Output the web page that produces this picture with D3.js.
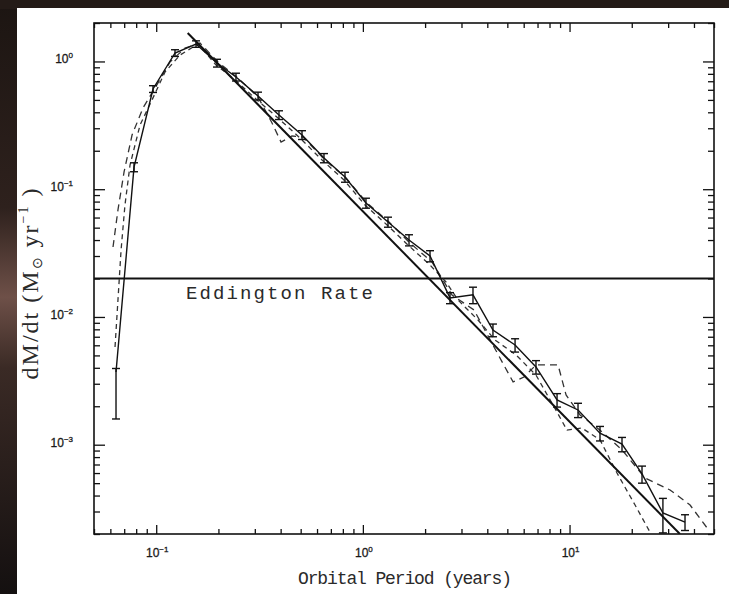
<html>
<head>
<script src="https://d3js.org/d3.v7.min.js"></script>
<style>
  body { margin: 0; background: #fff; }
</style>
</head>
<body>
<div id="chart"></div>
<script>
// ---- data ----
// main curve with error bars
const period = [0.0639, 0.0781, 0.0965, 0.1233, 0.1558, 0.1968, 0.2432, 0.3109, 0.3927, 0.5075,
                0.6483, 0.8193, 1.035, 1.323, 1.672, 2.113, 2.64, 3.41, 4.26, 5.45,
                6.88, 8.70, 10.99, 14.04, 17.94, 22.42, 28.3, 36.2]
const rate = [0.00371, 0.149, 0.609, 1.165, 1.37, 0.972, 0.756, 0.537, 0.381, 0.266,
              0.1755, 0.1246, 0.078, 0.0554, 0.040, 0.030, 0.0141, 0.0149, 0.0079, 0.00603,
              0.00406, 0.00224, 0.00187, 0.00123, 0.00101, 0.00059, 0.000292, 0.000248]
const rateLo = [0.00159, 0.137, 0.572, 1.095, 1.29, 0.904, 0.703, 0.499, 0.351, 0.245,
                0.161, 0.1134, 0.071, 0.0504, 0.036, 0.027, 0.0127, 0.0127, 0.0070, 0.00531,
                0.00357, 0.00197, 0.00163, 0.00107, 0.00088, 0.00050, 0.000204, 0.000213]
const rateHi = [0.00395, 0.161, 0.646, 1.235, 1.45, 1.040, 0.809, 0.575, 0.411, 0.287,
                0.190, 0.1358, 0.085, 0.0604, 0.044, 0.033, 0.0155, 0.0171, 0.0088, 0.00675,
                0.00455, 0.00251, 0.00211, 0.00139, 0.00114, 0.00068, 0.000380, 0.000283]

// dashed curve A
const dashAPeriod = [0.0618, 0.0653, 0.0699, 0.0764, 0.0863, 0.0987, 0.1166, 0.1378, 0.1628, 0.199,
                     0.2487, 0.311, 0.3634, 0.4018, 0.454, 0.5133, 0.6558, 0.8286, 1.047, 1.338,
                     1.691, 2.161, 2.70, 3.45, 4.31, 5.33, 6.02, 6.88, 8.80, 9.62,
                     11.24, 14.05, 17.95, 23.19, 30.64, 38.3, 46.3]
const dashARate = [0.0353, 0.0688, 0.1364, 0.2656, 0.432, 0.620, 0.990, 1.274, 1.394, 0.990,
                   0.742, 0.527, 0.330, 0.234, 0.261, 0.2563, 0.1693, 0.1224, 0.078, 0.0554,
                   0.0379, 0.0269, 0.01485, 0.01134, 0.00582, 0.0031, 0.00339, 0.00421, 0.00421, 0.00245,
                   0.00171, 0.0013, 0.00091, 0.000549, 0.000442, 0.000337, 0.000223]

// dashed curve B
const dashBPeriod = [0.0632, 0.0653, 0.0676, 0.0706, 0.0747, 0.0835, 0.0954, 0.1103, 0.1304, 0.1593,
                     0.1948, 0.2406, 0.3075, 0.3885, 0.4964, 0.6344, 0.8105, 1.024, 1.309, 1.653,
                     2.113, 2.525, 2.886, 3.607, 4.36, 5.51, 6.88, 8.70, 9.72, 11.49,
                     14.05, 16.97, 20.75, 24.5]
const dashBRate = [0.00582, 0.01357, 0.0334, 0.0752, 0.1547, 0.318, 0.499, 0.827, 1.123, 1.37,
                   0.938, 0.716, 0.499, 0.361, 0.2517, 0.1693, 0.118, 0.0752, 0.0525, 0.0366,
                   0.0255, 0.01877, 0.01357, 0.00946, 0.0066, 0.00504, 0.00351, 0.0018, 0.0013, 0.00135,
                   0.00109, 0.0006, 0.000337, 0.000207]

// power-law fit and Eddington limit
const fitPeriod = [0.142, 34.2]
const fitRate = [1.67, 0.0002]
const eddingtonRate = 0.02

// ticks
const xMajor = [0.1, 1, 10]
const xMajorExp = ['-1', '0', '1']
const yMajor = [1, 0.1, 0.01, 0.001]
const yMajorExp = ['0', '-1', '-2', '-3']

// ---- layout ----
const W = 729, H = 594
const plot = { left: 94, right: 714, top: 23, bottom: 534 }

const svg = d3.select('#chart').append('svg')
    .attr('width', W).attr('height', H)

// scanned background: dark space strip on top / left
const defs = svg.append('defs')
const grad = defs.append('linearGradient').attr('id', 'space')
    .attr('x1', 0).attr('y1', 0).attr('x2', 0).attr('y2', 1)
grad.append('stop').attr('offset', '0%').attr('stop-color', '#1c1512')
grad.append('stop').attr('offset', '35%').attr('stop-color', '#2e211d')
grad.append('stop').attr('offset', '50%').attr('stop-color', '#6e5048')
grad.append('stop').attr('offset', '62%').attr('stop-color', '#3a2a25')
grad.append('stop').attr('offset', '100%').attr('stop-color', '#141010')
svg.append('rect').attr('width', W).attr('height', H).attr('fill', 'url(#space)')
svg.append('rect').attr('width', W).attr('height', 9).attr('fill', '#241b17')
svg.append('rect').attr('x', 17).attr('y', 8).attr('width', W - 17).attr('height', H - 8).attr('fill', '#fff')

defs.append('clipPath').attr('id', 'plotclip').append('rect')
    .attr('x', plot.left).attr('y', plot.top)
    .attr('width', plot.right - plot.left).attr('height', plot.bottom - plot.top)

const x = d3.scaleLog().domain([0.05, 50]).range([plot.left, plot.right])
const y = d3.scaleLog().domain([2e-4, 2]).range([plot.bottom, plot.top])

// minor tick values from the scales
const xMinor = x.ticks().filter(v => !xMajor.includes(+v.toPrecision(3)))
const yMinor = y.ticks().filter(v => !yMajor.includes(+v.toPrecision(3)))

const axisStyle = g => {
    g.select('.domain').remove()
    g.selectAll('.tick line').attr('stroke', '#111').attr('stroke-width', 1.3)
}
// bottom / top
svg.append('g').attr('transform', `translate(0,${plot.bottom})`)
    .call(d3.axisBottom(x).tickValues(xMinor).tickSize(-5).tickFormat('')).call(axisStyle)
svg.append('g').attr('transform', `translate(0,${plot.bottom})`)
    .call(d3.axisBottom(x).tickValues(xMajor).tickSize(-9).tickFormat('')).call(axisStyle)
svg.append('g').attr('transform', `translate(0,${plot.top})`)
    .call(d3.axisTop(x).tickValues(xMinor).tickSize(-5).tickFormat('')).call(axisStyle)
svg.append('g').attr('transform', `translate(0,${plot.top})`)
    .call(d3.axisTop(x).tickValues(xMajor).tickSize(-9).tickFormat('')).call(axisStyle)
// left / right
svg.append('g').attr('transform', `translate(${plot.left},0)`)
    .call(d3.axisLeft(y).tickValues(yMinor).tickSize(-6).tickFormat('')).call(axisStyle)
svg.append('g').attr('transform', `translate(${plot.left},0)`)
    .call(d3.axisLeft(y).tickValues(yMajor).tickSize(-11).tickFormat('')).call(axisStyle)
svg.append('g').attr('transform', `translate(${plot.right},0)`)
    .call(d3.axisRight(y).tickValues(yMinor).tickSize(-6).tickFormat('')).call(axisStyle)
svg.append('g').attr('transform', `translate(${plot.right},0)`)
    .call(d3.axisRight(y).tickValues(yMajor).tickSize(-11).tickFormat('')).call(axisStyle)

// frame
svg.append('rect')
    .attr('x', plot.left).attr('y', plot.top)
    .attr('width', plot.right - plot.left).attr('height', plot.bottom - plot.top)
    .attr('fill', 'none').attr('stroke', '#111').attr('stroke-width', 1.6)

// tick labels
const labFont = 'Liberation Sans, Arial, sans-serif'
xMajor.forEach((v, i) => {
    const t = svg.append('text')
        .attr('x', x(v) + 1).attr('y', 557)
        .attr('text-anchor', 'middle')
        .attr('font-family', labFont).attr('font-size', 12).attr('fill', '#1a1a1a')
        .attr('stroke', '#1a1a1a').attr('stroke-width', 0.3)
    t.append('tspan').text('10')
    t.append('tspan').attr('dy', -5).attr('font-size', 8).text(xMajorExp[i].replace('-', '\u2212'))
})
yMajor.forEach((v, i) => {
    const t = svg.append('text')
        .attr('x', 73).attr('y', y(v) + 2)
        .attr('text-anchor', 'end')
        .attr('font-family', labFont).attr('font-size', 12).attr('fill', '#1a1a1a')
        .attr('stroke', '#1a1a1a').attr('stroke-width', 0.3)
    t.append('tspan').text('10')
    t.append('tspan').attr('dy', -5).attr('font-size', 8).text(yMajorExp[i].replace('-', '\u2212'))
})

// axis titles
svg.append('text')
    .attr('x', 405).attr('y', 584)
    .attr('text-anchor', 'middle')
    .attr('font-family', 'Liberation Mono, Courier New, monospace')
    .attr('font-size', 18).attr('fill', '#2a2a2a')
    .attr('textLength', 214).attr('lengthAdjust', 'spacing')
    .text('Orbital Period (years)')

const yt = svg.append('text')
    .attr('transform', 'translate(38,283) rotate(-90)')
    .attr('text-anchor', 'middle')
    .attr('font-family', 'Liberation Serif, Times New Roman, serif')
    .attr('font-size', 24).attr('fill', '#2a2a2a')
    .attr('letter-spacing', 2)
yt.append('tspan').text('dM/dt (M')
yt.append('tspan').attr('dy', 4).attr('font-size', 14).text('\u2299')
yt.append('tspan').attr('dy', -4).text(' yr')
yt.append('tspan').attr('dy', -10).attr('font-size', 14).text('\u22121')
yt.append('tspan').attr('dy', 10).text(' )')

// ---- marks ----
const g = svg.append('g').attr('clip-path', 'url(#plotclip)')
const line = d3.line().x(d => x(d[0])).y(d => y(d[1]))

// Eddington limit
g.append('line')
    .attr('x1', plot.left).attr('x2', plot.right)
    .attr('y1', y(eddingtonRate)).attr('y2', y(eddingtonRate))
    .attr('stroke', '#111').attr('stroke-width', 2.2)
svg.append('text')
    .attr('x', 186).attr('y', 299)
    .attr('font-family', 'Liberation Mono, Courier New, monospace')
    .attr('font-size', 19).attr('fill', '#2a2a2a')
    .attr('textLength', 187).attr('lengthAdjust', 'spacing')
    .text('Eddington Rate')

// dashed curves
g.append('path').datum(d3.zip(dashAPeriod, dashARate)).attr('d', line)
    .attr('fill', 'none').attr('stroke', '#333').attr('stroke-width', 1.3)
    .attr('stroke-dasharray', '7,5')
g.append('path').datum(d3.zip(dashBPeriod, dashBRate)).attr('d', line)
    .attr('fill', 'none').attr('stroke', '#333').attr('stroke-width', 1.3)
    .attr('stroke-dasharray', '5,4')

// power-law fit
g.append('path').datum(d3.zip(fitPeriod, fitRate)).attr('d', line)
    .attr('fill', 'none').attr('stroke', '#111').attr('stroke-width', 2)

// main curve with error bars
const pts = d3.zip(period, rate, rateLo, rateHi)
g.append('path').datum(pts).attr('d', line)
    .attr('fill', 'none').attr('stroke', '#111').attr('stroke-width', 1.4)

const eb = g.selectAll('g.err').data(pts).join('g').attr('class', 'err')
    .attr('stroke', '#111').attr('stroke-width', 1.4)
eb.append('line')
    .attr('x1', d => x(d[0])).attr('x2', d => x(d[0]))
    .attr('y1', d => y(d[3])).attr('y2', d => y(d[2]))
eb.append('line')
    .attr('x1', d => x(d[0]) - 4).attr('x2', d => x(d[0]) + 4)
    .attr('y1', d => y(d[3])).attr('y2', d => y(d[3]))
eb.append('line')
    .attr('x1', d => x(d[0]) - 4).attr('x2', d => x(d[0]) + 4)
    .attr('y1', d => y(d[2])).attr('y2', d => y(d[2]))
</script>
</body>
</html>
